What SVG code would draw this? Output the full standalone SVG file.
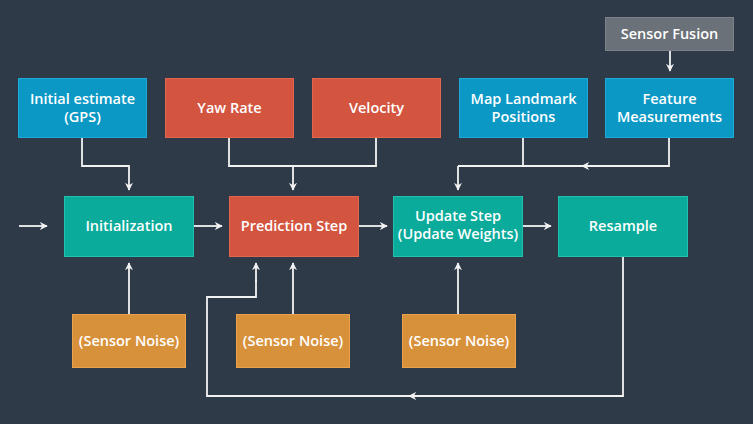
<svg xmlns="http://www.w3.org/2000/svg" width="753" height="424" viewBox="0 0 753 424">
<defs>
<marker id="ahb" viewBox="0 0 10 10" refX="9" refY="5" markerWidth="8" markerHeight="8" markerUnits="userSpaceOnUse" orient="auto">
<path d="M0,0 L10,5 L0,10 L3,5 z" fill="#f2f2f2"/>
</marker>
</defs>
<style>
.blue{fill:#0b98c5;stroke:#1eaad9;stroke-width:1}
.red{fill:#d3553f;stroke:#e2654d;stroke-width:1}
.teal{fill:#0aab9b;stroke:#1ec2ae;stroke-width:1}
.orange{fill:#d8913b;stroke:#eaa24b;stroke-width:1}
.gray{fill:#6b7178;stroke:#7c828a;stroke-width:1}
text{font-family:"Open Sans","Noto Sans","Liberation Sans",sans-serif;font-size:14.5px;font-weight:600;fill:#ffffff;text-anchor:middle}
.c{fill:none;stroke:#f2f2f2;stroke-width:1.8;marker-end:url(#ahb)}
.l{fill:none;stroke:#f2f2f2;stroke-width:1.8}
</style>
<rect width="753" height="424" fill="#2e3a48"/>
<g id="connectors">
<polyline class="c" points="82,138 82,166 129,166 129,190"/>
<polyline class="l" points="229,138 229,166 376,166 376,138"/>
<line class="c" x1="293" y1="166" x2="293" y2="190"/>
<line class="c" x1="670" y1="50" x2="670" y2="71"/>
<line class="l" x1="523" y1="138" x2="523" y2="166"/>
<polyline class="l" points="669,138 669,166 458,166"/>
<line class="c" x1="600" y1="166" x2="582" y2="166"/>
<line class="c" x1="458" y1="166" x2="458" y2="190"/>
<line class="c" x1="19" y1="226" x2="47" y2="226"/>
<line class="c" x1="194" y1="226" x2="222" y2="226"/>
<line class="c" x1="359" y1="226" x2="387" y2="226"/>
<line class="c" x1="523" y1="226" x2="551" y2="226"/>
<line class="c" x1="129" y1="314" x2="129" y2="263"/>
<line class="c" x1="293" y1="314" x2="293" y2="263"/>
<line class="c" x1="458" y1="314" x2="458" y2="263"/>
<polyline class="l" points="623,257 623,396 207,396 207,297 256,297 256,280"/>
<line class="c" x1="256" y1="282" x2="256" y2="263"/>
<line class="c" x1="430" y1="396" x2="409" y2="396"/>
</g>
<g id="sensor-fusion"><rect class="gray" x="605.5" y="17.5" width="128" height="33"/><text x="669.5" y="39">Sensor Fusion</text></g>
<g id="initial-estimate"><rect class="blue" x="18.5" y="78.5" width="128" height="59"/><text x="82.5" y="104">Initial estimate</text><text x="82.5" y="122">(GPS)</text></g>
<g id="yaw-rate"><rect class="red" x="165.5" y="78.5" width="128" height="59"/><text x="229.5" y="113">Yaw Rate</text></g>
<g id="velocity"><rect class="red" x="312.5" y="78.5" width="128" height="59"/><text x="376.5" y="113">Velocity</text></g>
<g id="map-landmark"><rect class="blue" x="459.5" y="78.5" width="128" height="59"/><text x="523.5" y="104">Map Landmark</text><text x="523.5" y="122">Positions</text></g>
<g id="feature-measurements"><rect class="blue" x="605.5" y="78.5" width="128" height="59"/><text x="669.5" y="104">Feature</text><text x="669.5" y="122">Measurements</text></g>
<g id="initialization"><rect class="teal" x="64.5" y="196.5" width="129" height="60"/><text x="129" y="231">Initialization</text></g>
<g id="prediction-step"><rect class="red" x="229.5" y="196.5" width="129" height="60"/><text x="294" y="231">Prediction Step</text></g>
<g id="update-step"><rect class="teal" x="393.5" y="196.5" width="129" height="60"/><text x="458" y="221">Update Step</text><text x="458" y="239">(Update Weights)</text></g>
<g id="resample"><rect class="teal" x="558.5" y="196.5" width="129" height="60"/><text x="623" y="231">Resample</text></g>
<g id="noise-1"><rect class="orange" x="72.5" y="314.5" width="113" height="53"/><text x="129" y="346">(Sensor Noise)</text></g>
<g id="noise-2"><rect class="orange" x="236.5" y="314.5" width="113" height="53"/><text x="293" y="346">(Sensor Noise)</text></g>
<g id="noise-3"><rect class="orange" x="402.5" y="314.5" width="113" height="53"/><text x="459" y="346">(Sensor Noise)</text></g>
</svg>
